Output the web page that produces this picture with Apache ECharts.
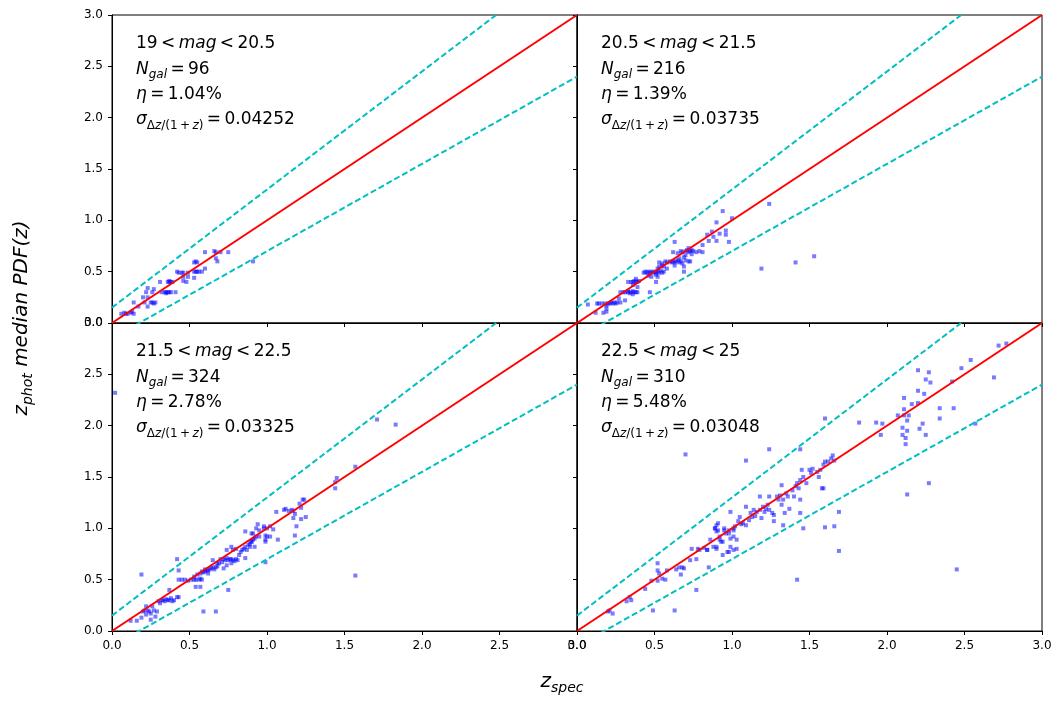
<!DOCTYPE html>
<html>
<head>
<meta charset="utf-8">
<script src="https://cdn.jsdelivr.net/npm/echarts@6/dist/echarts.min.js"></script>
<style>
  html, body { margin: 0; padding: 0; background: #fff; }
  #chart { width: 1062px; height: 706px; }
</style>
</head>
<body>
<div id="chart"></div>
<script>
// magnitude bins and stats shown in each panel
var magLo = ['19', '20.5', '21.5', '22.5'];
var magHi = ['20.5', '21.5', '22.5', '25'];
var nGal = [96, 216, 324, 310];
var eta = ['1.04', '1.39', '2.78', '5.48'];
var sigma = ['0.04252', '0.03735', '0.03325', '0.03048'];

// reference lines: z_phot = z_spec and +-0.15(1+z)
var diagX = [0, 3];
var diagY = [0, 3];
var upperY = [0.15, 3.6];
var lowerY = [-0.15, 2.4];

// [z_spec, z_phot]
var pts1 = [
  [0.06,0.09],[0.08,0.10],[0.10,0.09],[0.12,0.10],[0.14,0.09],[0.09,0.09],[0.13,0.11],
  [0.17,0.16],[0.23,0.16],
  [0.14,0.20],[0.21,0.20],[0.25,0.20],[0.26,0.20],[0.28,0.20],[0.27,0.19],
  [0.20,0.25],[0.23,0.25],
  [0.22,0.30],[0.26,0.30],[0.32,0.30],[0.34,0.30],[0.35,0.30],[0.36,0.30],[0.37,0.30],[0.38,0.30],[0.41,0.30],[0.35,0.29],
  [0.23,0.34],[0.27,0.33],
  [0.31,0.40],[0.36,0.40],[0.37,0.40],[0.38,0.40],[0.39,0.40],[0.46,0.41],[0.48,0.40],[0.37,0.41],
  [0.46,0.45],[0.49,0.45],[0.53,0.44],
  [0.43,0.49],[0.46,0.49],[0.49,0.49],[0.53,0.50],[0.54,0.50],[0.55,0.50],[0.56,0.50],[0.58,0.50],[0.60,0.53],[0.45,0.49],[0.42,0.50],
  [0.53,0.59],[0.55,0.59],[0.54,0.60],[0.91,0.60],
  [0.67,0.63],[0.68,0.60],
  [0.60,0.69],[0.67,0.69],[0.70,0.69],[0.75,0.69],[0.66,0.70]
];

var pts2 = [
  [0.07,0.18],[0.12,0.10],[0.13,0.19],[0.17,0.10],[0.19,0.14],[0.19,0.11],[0.14,0.19],[0.16,0.19],[0.18,0.19],
  [0.20,0.19],[0.21,0.19],[0.22,0.20],[0.23,0.19],[0.24,0.20],[0.25,0.19],[0.26,0.20],[0.28,0.20],[0.19,0.17],
  [0.31,0.22],[0.27,0.24],
  [0.28,0.30],[0.30,0.30],[0.31,0.30],[0.33,0.30],[0.34,0.29],[0.35,0.30],[0.36,0.31],[0.37,0.30],[0.38,0.30],
  [0.39,0.30],[0.36,0.28],[0.33,0.31],[0.47,0.30],
  [0.33,0.40],[0.35,0.40],[0.36,0.40],[0.37,0.41],[0.38,0.40],[0.39,0.40],[0.40,0.41],[0.36,0.37],[0.39,0.35],[0.38,0.43],
  [0.48,0.45],[0.51,0.40],[0.46,0.46],
  [0.43,0.49],[0.44,0.50],[0.45,0.49],[0.46,0.50],[0.47,0.49],[0.48,0.50],[0.49,0.49],[0.50,0.50],[0.51,0.49],
  [0.52,0.50],[0.53,0.49],[0.54,0.51],[0.55,0.49],[0.56,0.50],[0.52,0.53],[0.53,0.55],[0.51,0.47],[0.52,0.45],[0.69,0.50],
  [0.55,0.56],[0.56,0.55],[0.53,0.59],[0.55,0.58],[0.57,0.60],[0.58,0.59],[0.60,0.60],[0.61,0.59],[0.62,0.60],
  [0.63,0.59],[0.64,0.60],[0.65,0.61],[0.66,0.59],[0.67,0.60],[0.68,0.58],[0.70,0.61],[0.72,0.60],[0.73,0.60],
  [0.66,0.63],[0.69,0.64],[0.69,0.55],[0.63,0.56],[0.58,0.53],
  [0.62,0.69],[0.65,0.68],[0.67,0.70],[0.68,0.69],[0.70,0.70],[0.71,0.71],[0.72,0.69],[0.73,0.70],[0.74,0.71],
  [0.75,0.70],[0.77,0.69],[0.79,0.70],[0.81,0.69],[0.70,0.66],[0.74,0.67],[0.72,0.73],[0.63,0.79],
  [0.81,0.76],[0.84,0.86],[0.87,0.89],[0.88,0.84],[0.90,0.80],[0.92,0.87],[0.96,0.90],[0.96,0.86],[0.98,0.79],
  [0.90,0.98],[0.94,1.09],[1.00,1.02],[0.85,0.80],
  [1.24,1.16],[1.53,0.65],[1.41,0.59],[1.19,0.53]
];

var pts3 = [
  [0.02,2.32],[1.71,2.06],[1.83,2.01],[1.57,1.60],[1.45,1.49],[1.44,1.45],[1.44,1.39],[1.57,0.54],[0.19,0.55],
  [1.24,1.28],[1.21,1.24],[1.22,1.20],[1.16,1.18],[1.12,1.19],[1.14,1.17],[1.18,1.14],[1.22,1.09],[1.25,1.11],
  [1.17,1.10],[1.06,1.16],[1.19,1.02],[1.18,0.93],[1.07,0.89],[1.11,1.18],[1.17,1.17],[1.23,1.28],
  [0.90,0.87],[0.91,0.95],[0.93,1.00],[0.95,0.98],[0.98,1.02],[1.00,1.00],[1.02,1.02],[1.04,0.99],[0.93,0.92],
  [0.99,0.93],[0.92,0.82],[0.99,0.87],[1.02,0.92],[0.89,0.82],[0.94,1.04],[0.98,1.00],[0.86,0.97],[0.90,0.95],
  [0.99,0.89],[1.00,0.92],[0.99,0.67],
  [0.82,0.74],[0.84,0.79],[0.85,0.80],[0.87,0.79],[0.88,0.84],[0.90,0.87],[0.91,0.89],[0.92,0.90],[0.95,0.92],
  [0.86,0.71],[0.74,0.79],[0.78,0.79],[0.77,0.82],[0.80,0.80],[0.83,0.77],[0.89,0.85],[0.86,0.82],
  [0.65,0.62],[0.67,0.62],[0.68,0.63],[0.69,0.66],[0.71,0.67],[0.73,0.69],[0.75,0.69],[0.77,0.70],[0.80,0.70],
  [0.74,0.64],[0.77,0.66],[0.81,0.69],[0.65,0.69],[0.68,0.66],[0.62,0.59],[0.63,0.60],[0.61,0.59],[0.72,0.70],
  [0.76,0.70],[0.78,0.69],[0.70,0.70],[0.74,0.71],[0.79,0.68],[0.66,0.60],[0.64,0.61],[0.60,0.60],[0.42,0.70],
  [0.43,0.59],[0.72,0.61],
  [0.43,0.50],[0.45,0.50],[0.47,0.50],[0.49,0.49],[0.51,0.50],[0.53,0.50],[0.54,0.50],[0.56,0.50],[0.57,0.51],
  [0.58,0.50],[0.53,0.53],[0.55,0.55],[0.57,0.56],[0.58,0.58],[0.54,0.43],[0.57,0.43],[0.75,0.40],[0.62,0.56],
  [0.59,0.57],[0.60,0.58],
  [0.37,0.40],[0.43,0.33],[0.32,0.30],[0.34,0.29],[0.37,0.30],[0.39,0.29],[0.31,0.27],[0.38,0.32],[0.42,0.33],
  [0.35,0.31],[0.36,0.30],[0.33,0.30],[0.40,0.30],[0.30,0.29],
  [0.26,0.24],[0.22,0.24],[0.23,0.20],[0.20,0.19],[0.27,0.20],[0.29,0.19],[0.22,0.16],[0.28,0.14],[0.25,0.11],
  [0.16,0.10],[0.12,0.10],[0.21,0.20],[0.24,0.19],[0.59,0.19],[0.67,0.19],[0.25,0.17],[0.19,0.13]
];

var pts4 = [
  [0.21,0.20],[0.23,0.17],[0.20,0.19],[0.32,0.29],[0.35,0.30],[0.34,0.33],[0.44,0.41],[0.48,0.49],[0.52,0.49],
  [0.49,0.20],[0.63,0.20],[0.52,0.66],[0.52,0.59],[0.53,0.56],[0.57,0.50],[0.58,0.59],[0.68,0.62],[0.66,0.62],
  [0.69,0.61],[0.64,0.60],[0.67,0.55],[0.73,0.69],[0.77,0.70],[0.85,0.62],[0.77,0.40],[0.74,0.80],[0.78,0.80],
  [0.84,0.79],[0.70,1.72],[0.55,0.51],[0.82,0.81],
  [0.99,1.16],[0.89,1.00],[0.90,1.03],[0.91,0.98],[0.95,1.00],[0.96,0.95],[0.98,0.98],[1.01,0.98],[0.92,0.89],
  [0.97,0.77],[0.99,0.82],[0.88,0.82],[0.90,0.80],[0.94,0.87],[1.01,0.92],
  [0.79,0.79],[0.84,0.79],[0.86,0.89],[0.89,1.00],[0.90,0.97],[0.91,1.05],[0.92,0.92],[0.93,0.87],[0.95,0.98],
  [0.98,0.95],[0.99,0.90],[1.01,1.00],[1.02,1.02],[1.03,0.89],[1.04,1.07],[1.05,1.11],[1.07,1.05],[1.09,1.03],
  [1.12,1.15],[1.13,1.11],[1.14,1.18],[1.16,1.16],[1.18,1.18],[1.19,1.10],[1.20,1.21],[1.22,1.19],[1.23,1.23],
  [1.24,1.18],[1.26,1.15],[1.27,1.07],[1.29,1.31],[1.30,1.28],[1.31,1.32],[1.32,1.23],[1.33,1.28],[1.34,1.15],
  [1.35,1.34],[1.36,1.31],[1.37,1.19],[1.39,1.37],[1.41,1.41],[1.42,1.44],[1.43,1.39],[1.44,1.47],[1.45,1.57],
  [1.46,1.50],[1.48,1.44],[1.50,1.57],[1.51,1.54],[1.52,1.58],[1.55,1.55],[1.56,1.50],[1.57,1.57],[1.59,1.62],
  [1.60,1.65],[1.62,1.65],[1.64,1.68],[1.65,1.71],[1.66,1.66],[1.40,1.31],[1.44,1.28],[1.44,1.15],[1.46,1.00],
  [1.33,1.03],[1.32,1.42],[1.24,1.31],[1.18,1.31],[1.09,1.21],[1.01,0.79],[1.03,0.80],[0.98,0.77],[0.94,0.74],
  [0.90,0.82],[1.69,1.16],[1.59,1.39],[1.58,1.39],[1.60,1.01],[1.66,1.02],[1.69,0.78],[1.42,0.50],[2.45,0.60],
  [1.24,1.77],[1.09,1.66],[1.44,1.77],[1.27,1.13],[1.21,1.16],[1.15,1.12],[1.11,1.08],[1.06,1.04],
  [2.72,2.78],[2.77,2.80],[2.54,2.64],[2.48,2.56],[2.69,2.47],[2.42,2.43],[2.20,2.54],[2.27,2.52],[2.25,2.45],
  [2.28,2.42],[2.20,2.34],[2.24,2.31],[2.11,2.27],[2.16,2.21],[2.20,2.22],[2.34,2.17],[2.43,2.17],[2.34,2.07],
  [2.07,2.10],[2.11,2.16],[2.11,2.10],[2.14,2.10],[2.13,2.05],[2.10,1.98],[2.13,1.95],[2.10,1.91],[2.12,1.88],
  [2.12,1.82],[2.21,1.97],[2.23,2.02],[2.25,1.91],[2.57,2.02],[1.82,2.03],[1.93,2.03],[1.97,2.02],[1.96,1.91],
  [1.60,2.07],[2.27,1.44],[2.13,1.33]
];

var panels = [pts1, pts2, pts3, pts4];

var grids = [
  { left: 112, top: 15, width: 465, height: 308 },
  { left: 577, top: 15, width: 465, height: 308 },
  { left: 112, top: 323, width: 465, height: 308 },
  { left: 577, top: 323, width: 465, height: 308 }
];

var font = 'DejaVu Sans';
var sp = '\u2009';   // thin space around relations, like mathtext
var rich = {
  n: { fontSize: 17, fontFamily: font, color: '#000' },
  i: { fontSize: 17, fontFamily: font, fontStyle: 'italic', color: '#000' },
  s: { fontSize: 12, fontFamily: font, color: '#000', padding: [11, 0, 0, 0] },
  si: { fontSize: 12, fontFamily: font, fontStyle: 'italic', color: '#000', padding: [11, 0, 0, 0] },
  L: { fontSize: 20, fontFamily: font, fontStyle: 'italic', color: '#000' },
  Ls: { fontSize: 14, fontFamily: font, fontStyle: 'italic', color: '#000', padding: [13, 0, 0, 0] }
};

function axisCommon(showLabel) {
  return {
    type: 'value',
    min: 0,
    max: 3,
    interval: 0.5,
    axisLine: { show: true, onZero: false, lineStyle: { color: '#000', width: 1 } },
    axisTick: { show: true, length: 4, lineStyle: { color: '#000' } },
    splitLine: { show: false },
    axisLabel: {
      show: showLabel,
      color: '#000',
      fontFamily: font,
      fontSize: 12,
      margin: 9,
      showMinLabel: true,
      showMaxLabel: true,
      formatter: function (v) { return v.toFixed(1); }
    }
  };
}

var xAxes = [], yAxes = [], series = [], graphics = [];
grids.forEach(function (g, k) {
  var x = axisCommon(k >= 2);
  x.gridIndex = k;
  xAxes.push(x);
  var y = axisCommon(k % 2 === 0);
  y.gridIndex = k;
  yAxes.push(y);

  series.push({
    type: 'scatter',
    xAxisIndex: k, yAxisIndex: k,
    symbol: 'rect',
    symbolSize: 4,
    itemStyle: { color: 'rgba(0,0,255,0.65)' },
    data: panels[k],
    z: 2
  });
  var lines = [[diagY, '#ff0000', 'solid'], [upperY, '#00bfbf', [6, 3]], [lowerY, '#00bfbf', [6, 3]]];
  lines.forEach(function (l) {
    series.push({
      type: 'line',
      xAxisIndex: k, yAxisIndex: k,
      data: diagX.map(function (xv, i) { return [xv, l[0][i]]; }),
      symbol: 'none',
      clip: true,
      lineStyle: { color: l[1], width: 2, type: l[2] },
      z: 3
    });
  });

  var tx = g.left + 24, ty = g.top + 29;
  var txt = [
    '{n|' + magLo[k] + sp + '<' + sp + '}{i|mag}{n|' + sp + '<' + sp + magHi[k] + '}',
    '{i|N}{si|gal}{n|' + sp + '=' + sp + nGal[k] + '}',
    '{i|η}{n|' + sp + '=' + sp + eta[k] + '%}',
    '{i|σ}{s|Δ}{si|z}{s|/(1' + sp + '+' + sp + '}{si|z}{s|)}{n|' + sp + '=' + sp + sigma[k] + '}'
  ];
  txt.forEach(function (t, j) {
    graphics.push({
      type: 'text',
      x: tx, y: ty + j * 25.3,
      style: { text: t, rich: rich, align: 'left', verticalAlign: 'middle' },
      z: 10
    });
  });
});

graphics.push({
  type: 'text',
  x: 22, y: 318,
  rotation: Math.PI / 2,
  style: {
    text: '{L|z}{Ls|phot}{L| median PDF(z)}',
    rich: rich, align: 'center', verticalAlign: 'middle'
  }
});
graphics.push({
  type: 'text',
  x: 562, y: 682,
  style: {
    text: '{L|z}{Ls|spec}',
    rich: rich, align: 'center', verticalAlign: 'middle'
  }
});

var myChart = echarts.init(document.getElementById('chart'));
myChart.setOption({
  animation: false,
  backgroundColor: '#fff',
  grid: grids.map(function (g) {
    return { left: g.left, top: g.top, width: g.width, height: g.height, show: true, borderColor: '#000', borderWidth: 1, backgroundColor: 'transparent' };
  }),
  xAxis: xAxes,
  yAxis: yAxes,
  series: series,
  graphic: graphics
});
</script>
</body>
</html>
